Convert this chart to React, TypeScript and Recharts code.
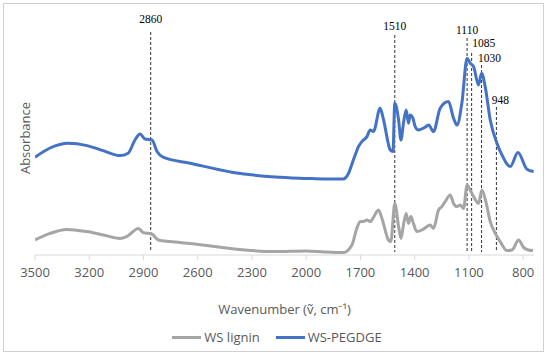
import React from "react";
import { Legend, Line, LineChart, ReferenceLine, XAxis, YAxis } from "recharts";

// WS lignin spectrum (wavenumber, absorbance a.u.)
const ligninWavenumber = [3500, 3417, 3325, 3214, 3122, 3030, 2993, 2928, 2901, 2854, 2818, 2753, 2642, 2338, 2172, 2000, 1900, 1794, 1747, 1720, 1701, 1683, 1664, 1646, 1631, 1600, 1581, 1545, 1532, 1510, 1489, 1476, 1462, 1447, 1434, 1421, 1407, 1388, 1360, 1332, 1314, 1296, 1268, 1250, 1231, 1203, 1185, 1166, 1148, 1130, 1110, 1089, 1074, 1047, 1028, 1004, 982, 954, 927, 890, 862, 825, 798, 770, 746];
const ligninAbs = [0.075, 0.108, 0.128, 0.117, 0.1, 0.083, 0.092, 0.133, 0.112, 0.105, 0.075, 0.067, 0.058, 0.025, 0.017, 0.02, 0.015, 0.012, 0.05, 0.133, 0.167, 0.167, 0.175, 0.167, 0.183, 0.225, 0.183, 0.075, 0.067, 0.258, 0.142, 0.083, 0.15, 0.208, 0.158, 0.192, 0.158, 0.117, 0.125, 0.142, 0.15, 0.133, 0.225, 0.242, 0.267, 0.3, 0.258, 0.242, 0.25, 0.233, 0.35, 0.317, 0.292, 0.258, 0.325, 0.258, 0.167, 0.108, 0.067, 0.022, 0.025, 0.075, 0.038, 0.025, 0.022];

// WS-PEGDGE spectrum
const pegdgeWavenumber = [3500, 3417, 3317, 3212, 3124, 3030, 2985, 2947, 2919, 2891, 2853, 2825, 2792, 2642, 2404, 2172, 2000, 1900, 1796, 1765, 1745, 1729, 1711, 1692, 1664, 1646, 1628, 1591, 1572, 1535, 1520, 1510, 1489, 1476, 1462, 1447, 1434, 1425, 1410, 1397, 1379, 1342, 1323, 1296, 1259, 1213, 1185, 1166, 1139, 1110, 1093, 1074, 1047, 1030, 1010, 982, 945, 917, 871, 829, 779, 742];
const pegdgeAbs = [0.489, 0.535, 0.559, 0.547, 0.522, 0.497, 0.509, 0.575, 0.605, 0.58, 0.575, 0.517, 0.489, 0.459, 0.413, 0.39, 0.383, 0.38, 0.38, 0.41, 0.46, 0.5, 0.542, 0.567, 0.592, 0.625, 0.617, 0.734, 0.675, 0.525, 0.517, 0.759, 0.675, 0.575, 0.659, 0.725, 0.659, 0.7, 0.684, 0.642, 0.625, 0.639, 0.65, 0.617, 0.734, 0.767, 0.684, 0.65, 0.759, 0.984, 0.959, 0.942, 0.85, 0.909, 0.842, 0.675, 0.559, 0.5, 0.442, 0.512, 0.429, 0.417];

const wavenumberTicks = [3500, 3200, 2900, 2600, 2300, 2000, 1700, 1400, 1100, 800];

// marked bands and the height their dashed line reaches
const bandMarks = [2860, 1510, 1110, 1085, 1030, 948];
const bandTops = [1.115, 1.1, 1.085, 1.01, 0.95, 0.74];

const ligninData = ligninWavenumber.map((w, i) => ({ w, a: ligninAbs[i] }));
const pegdgeData = pegdgeWavenumber.map((w, i) => ({ w, a: pegdgeAbs[i] }));

const labelShift: Record<number, [number, number]> = {
  2860: [0, 9],
  1510: [0, 5],
  1110: [0, 4],
  1085: [12, 6],
  1030: [8, 3],
  948: [4, 3],
};

const BandLabel = (props: any) => {
  const { viewBox, text } = props;
  const [dx, dy] = labelShift[text] || [0, 4];
  return (
    <text
      x={viewBox.x + dx}
      y={viewBox.y - dy}
      textAnchor="middle"
      fontFamily="Liberation Serif"
      fontSize={11.5}
      fill="#000"
    >
      {text}
    </text>
  );
};

const YLabel = (props: any) => {
  const { viewBox } = props;
  const cx = viewBox.x + 25;
  const cy = 138;
  return (
    <text
      x={cx}
      y={cy}
      transform={`rotate(-90 ${cx} ${cy})`}
      textAnchor="middle"
      dominantBaseline="central"
      fontFamily="Open Sans"
      fontSize={13}
      fill="#595959"
    >
      Absorbance
    </text>
  );
};

const LegendBox = (props: any) => {
  const { payload } = props;
  return (
    <div
      style={{
        height: 41,
        paddingTop: 13,
        paddingLeft: 20,
        boxSizing: "border-box",
        display: "flex",
        justifyContent: "center",
        fontFamily: "Open Sans",
        fontSize: 13,
        color: "#595959",
      }}
    >
      {(payload || []).map((p: any, i: number) => (
        <div key={i} style={{ display: "flex", alignItems: "center", height: 18, marginLeft: i ? 16 : 0 }}>
          <span style={{ display: "inline-block", width: 29, height: 3, background: p.color, marginRight: 3 }} />
          <span>{p.value}</span>
        </div>
      ))}
    </div>
  );
};

export default function App() {
  return (
    <div style={{ position: "absolute", left: 0, top: 0, width: 550, height: 356 }}>
      <div
        style={{
          position: "absolute",
          left: 3,
          top: 3,
          width: 541,
          height: 349,
          border: "1px solid #d0d0d0",
          boxSizing: "border-box",
        }}
      />
      <LineChart
        width={550}
        height={356}
        margin={{ top: 10, right: 16, left: 0, bottom: 0 }}
        style={{ position: "absolute", left: 0, top: 0 }}
      >
        <XAxis
          dataKey="w"
          type="number"
          domain={[740, 3500]}
          reversed
          ticks={wavenumberTicks}
          allowDataOverflow
          height={60}
          stroke="#d9d9d9"
          tickSize={5}
          tickMargin={8}
          tick={{ fill: "#595959", fontSize: 13, fontFamily: "Open Sans" }}
          label={{
            value: "Wavenumber (\u1E7D, cm\u207B\u00B9)",
            position: "insideBottom",
            offset: 1,
            fill: "#595959",
            fontSize: 13,
            fontFamily: "Open Sans",
          }}
        />
        <YAxis
          type="number"
          domain={[0, 1.225]}
          width={35}
          tick={false}
          axisLine={false}
          tickLine={false}
          label={<YLabel />}
        />
        {bandMarks.map((b, i) => (
          <ReferenceLine
            key={b}
            segment={[
              { x: b, y: bandTops[i] },
              { x: b, y: 0.015 },
            ]}
            stroke="#333"
            strokeDasharray="3 2"
            strokeWidth={1}
            label={<BandLabel text={b} />}
          />
        ))}
        <Line
          data={ligninData}
          dataKey="a"
          name="WS lignin"
          type="monotone"
          stroke="#A5A5A5"
          strokeWidth={3}
          dot={false}
          isAnimationActive={false}
        />
        <Line
          data={pegdgeData}
          dataKey="a"
          name="WS-PEGDGE"
          type="monotone"
          stroke="#4472C4"
          strokeWidth={3}
          dot={false}
          isAnimationActive={false}
        />
        <Legend verticalAlign="bottom" content={<LegendBox />} />
      </LineChart>
    </div>
  );
}
